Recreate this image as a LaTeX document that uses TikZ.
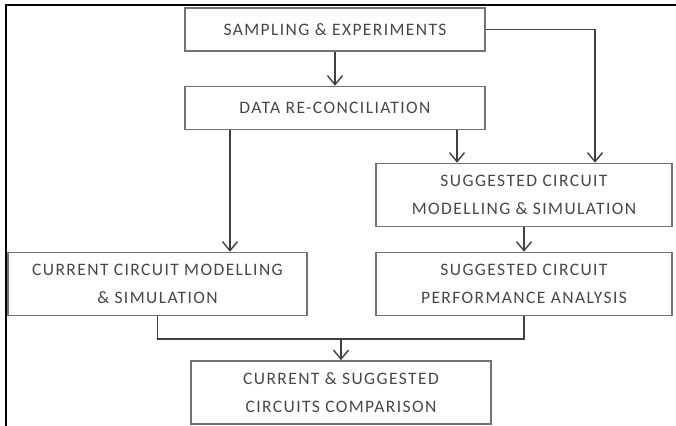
\documentclass[tikz,border=0pt]{standalone}
\usepackage{fontspec}
\setmainfont{Carlito}[LetterSpace=8]
\usetikzlibrary{positioning}
\usetikzlibrary{arrows.meta}
\tikzset{
    stepbox/.style = {rectangle, line width=1.6pt, draw=black!55, align=center, inner sep=0pt, text=black!72, font=\fontsize{17.5}{27.5}\selectfont},
    boxw/.style = {stepbox, minimum width=300pt, minimum height=43pt},
    boxt/.style = {stepbox, minimum width=296pt, minimum height=63pt},
    edgen/.style = {-, line width=1.4pt, black!75},
    edgea/.style = {-{Straight Barb[length=9pt,width=15pt,line width=1.4pt]}, line width=1.4pt, black!75},
    frame/.style = {-, line width=1.8pt, black}
}

\begin{document}
\begin{tikzpicture}[x=1pt,y=-1pt]
\useasboundingbox (0,0) rectangle (676,425);
\draw[frame] (6,440) -- (6,5) -- (690,5);
%
\node[boxw] at (335, 29.5) (samp) {SAMPLING \& EXPERIMENTS};
\node[boxw] at (335, 108) (recon) {DATA RE-CONCILIATION};
\node[boxt] at (524, 195) (sugmod) {SUGGESTED CIRCUIT\\MODELLING \& SIMULATION};
\node[boxt, minimum width=299pt] at (157.5, 284) (curmod) {CURRENT CIRCUIT MODELLING\\\& SIMULATION};
\node[boxt] at (524, 284) (sugperf) {SUGGESTED CIRCUIT\\PERFORMANCE ANALYSIS};
\node[boxt, minimum width=300pt] at (341, 392.5) (comp) {CURRENT \& SUGGESTED\\CIRCUITS COMPARISON};
\coordinate (join) at (341, 339);
%
\draw[edgea] (samp) -- (recon);
\draw[edgea] (samp.east) -| ([xshift=71pt]sugmod.north);
\draw[edgea] ([xshift=-105pt]recon.south) -- ([xshift=72.5pt]curmod.north);
\draw[edgea] ([xshift=122pt]recon.south) -- ([xshift=-67pt]sugmod.north);
\draw[edgea] (sugmod) -- (sugperf);
\draw[edgen] (curmod.south) |- (join) -| (sugperf.south);
\draw[edgea] (join) -- (comp);
\end{tikzpicture}
\end{document}
